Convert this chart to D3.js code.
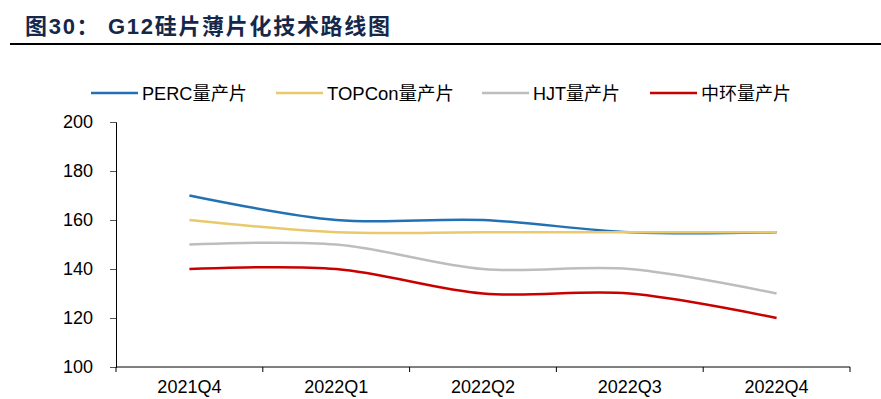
<!DOCTYPE html>
<html>
<head>
<meta charset="utf-8">
<script src="https://cdn.jsdelivr.net/npm/d3@7/dist/d3.min.js"></script>
<style>
body { margin: 0; background: #fff; }
text { font-family: Arial, "Liberation Sans", "Noto Sans CJK SC", sans-serif; }
</style>
</head>
<body>
<script>
var quarters = ["2021Q4", "2022Q1", "2022Q2", "2022Q3", "2022Q4"];
var perc = [170, 160, 160, 155, 155];
var topcon = [160, 155, 155, 155, 155];
var hjt = [150, 150, 140, 140, 130];
var zhonghuan = [140, 140, 130, 130, 120];
var yTicks = [100, 120, 140, 160, 180, 200];

var seriesList = [
    { name: "PERC量产片", values: perc, color: "#2271b3" },
    { name: "TOPCon量产片", values: topcon, color: "#e8c96b" },
    { name: "HJT量产片", values: hjt, color: "#bdbdbd" },
    { name: "中环量产片", values: zhonghuan, color: "#c90000" }
];

var width = 881, height = 399;
var svg = d3.select("body").append("svg").attr("width", width).attr("height", height);

// title
svg.append("text")
    .attr("x", 25).attr("y", 34)
    .attr("font-size", 22).attr("font-weight", "bold")
    .attr("fill", "#15284a")
    .attr("textLength", 365)
    .text("图30： G12硅片薄片化技术路线图");
svg.append("line")
    .attr("x1", 10).attr("x2", 881).attr("y1", 44).attr("y2", 44)
    .attr("stroke", "#000").attr("stroke-width", 2);

var x = d3.scaleBand().domain(quarters).range([116, 850]);
var y = d3.scaleLinear().domain([100, 200]).range([367, 122]);

// y axis
var yAxis = svg.append("g").attr("transform", "translate(116,0)")
    .call(d3.axisLeft(y).tickValues(yTicks).tickSize(6).tickPadding(17));
yAxis.select(".domain").attr("stroke", "#000");
yAxis.selectAll(".tick line").attr("stroke", "#555");
yAxis.selectAll("text").attr("font-size", 18).attr("fill", "#000")
    .style("font-family", "Arial, 'Liberation Sans', sans-serif");

// x axis
var xAxis = svg.append("g").attr("transform", "translate(0,367)")
    .call(d3.axisBottom(x).tickSize(0).tickPadding(13));
xAxis.select(".domain").attr("stroke", "#000").attr("d", "M116,0H850");
xAxis.selectAll("text").attr("font-size", 18).attr("fill", "#000")
    .style("font-family", "Arial, 'Liberation Sans', sans-serif");
var bounds = quarters.map(function (q) { return x(q); }).concat([850]);
xAxis.selectAll(".bound").data(bounds).enter().append("line")
    .attr("x1", function (d) { return d; }).attr("x2", function (d) { return d; })
    .attr("y1", 0).attr("y2", 5).attr("stroke", "#000");

// lines
var line = d3.line()
    .x(function (d, i) { return x(quarters[i]) + x.bandwidth() / 2; })
    .y(function (d) { return y(d); })
    .curve(d3.curveCatmullRom.alpha(0));

svg.append("g").selectAll("path")
    .data(seriesList)
    .enter().append("path")
    .attr("d", function (d) { return line(d.values); })
    .attr("fill", "none")
    .attr("stroke", function (d) { return d.color; })
    .attr("stroke-width", 2.5);

// legend
var legendX = [91, 276, 482, 650];
var legendTextW = [105, 127, 87, 90];
var legend = svg.append("g").selectAll("g")
    .data(seriesList)
    .enter().append("g")
    .attr("transform", function (d, i) { return "translate(" + legendX[i] + ",93)"; });
legend.append("line")
    .attr("x1", 0).attr("x2", 47).attr("y1", 0).attr("y2", 0)
    .attr("stroke", function (d) { return d.color; })
    .attr("stroke-width", 2.5);
legend.append("text")
    .attr("x", 51).attr("y", 7)
    .attr("font-size", 18).attr("fill", "#000")
    .attr("textLength", function (d, i) { return legendTextW[i]; })
    .attr("lengthAdjust", "spacingAndGlyphs")
    .text(function (d) { return d.name; });
</script>
</body>
</html>
